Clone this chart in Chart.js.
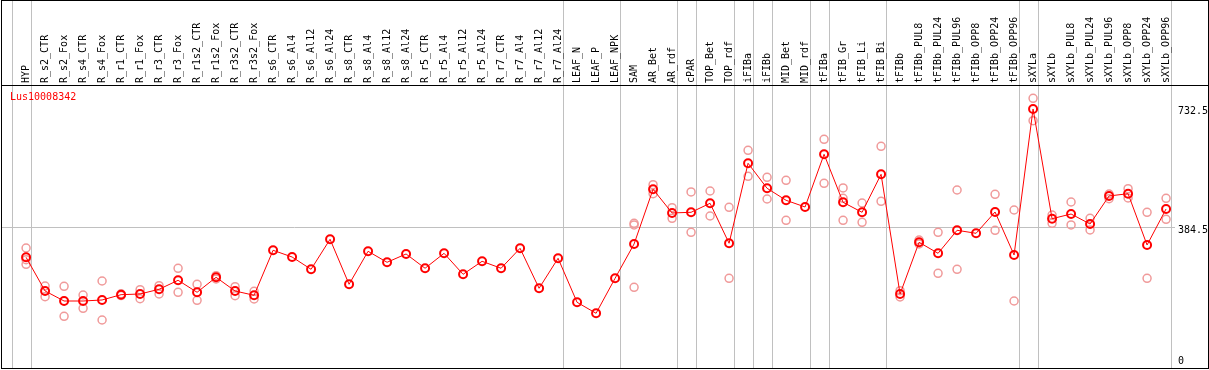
<!DOCTYPE html>
<html>
<head>
<meta charset="utf-8">
<script src="https://cdn.jsdelivr.net/npm/chart.js@4/dist/chart.umd.min.js"></script>
<style>
  body { margin: 0; background: #fff; }
  canvas { display: block; }
</style>
</head>
<body>
<canvas id="grafico" width="1209" height="370"></canvas>
<script>
var amostras = ['HYP', 'R_s2_CTR', 'R_s2_Fox', 'R_s4_CTR', 'R_s4_Fox', 'R_r1_CTR', 'R_r1_Fox', 'R_r3_CTR', 'R_r3_Fox',
  'R_r1s2_CTR', 'R_r1s2_Fox', 'R_r3s2_CTR', 'R_r3s2_Fox', 'R_s6_CTR', 'R_s6_Al4', 'R_s6_Al12', 'R_s6_Al24',
  'R_s8_CTR', 'R_s8_Al4', 'R_s8_Al12', 'R_s8_Al24', 'R_r5_CTR', 'R_r5_Al4', 'R_r5_Al12', 'R_r5_Al24',
  'R_r7_CTR', 'R_r7_Al4', 'R_r7_Al12', 'R_r7_Al24', 'LEAF_N', 'LEAF_P', 'LEAF_NPK', 'SAM', 'AR_Bet', 'AR_rdf',
  'cPAR', 'TOP_Bet', 'TOP_rdf', 'iFIBa', 'iFIBb', 'MID_Bet', 'MID_rdf', 'tFIBa', 'tFIB_Gr', 'tFIB_Li', 'tFIB_Bi',
  'tFIBb', 'tFIBb_PUL8', 'tFIBb_PUL24', 'tFIBb_PUL96', 'tFIBb_OPP8', 'tFIBb_OPP24', 'tFIBb_OPP96',
  'sXYLa', 'sXYLb', 'sXYLb_PUL8', 'sXYLb_PUL24', 'sXYLb_PUL96', 'sXYLb_OPP8', 'sXYLb_OPP24', 'sXYLb_OPP96'];

// media de cada amostra
var medias = [298.8, 200.3, 171.0, 171.0, 174.0, 189.5, 191.5, 205.3, 231.6,
  196.5, 240.3, 200.3, 187.7, 319.3, 299.7, 263.7, 351.5,
  219.9, 316.4, 284.2, 308.5, 266.7, 310.5, 249.1, 287.1,
  266.7, 325.1, 208.2, 295.9, 167.2, 135.1, 237.4, 337.7, 497.7, 428.4,
  430.4, 456.7, 339.8, 573.7, 500.6, 465.5, 445.9, 600.0, 459.6, 430.4, 541.5,
  191.5, 342.7, 310.5, 377.8, 369.0, 431.3, 305.6,
  732.5, 411.7, 425.4, 396.2, 478.1, 484.8, 334.8, 440.1];

// replicas
var rep1 = [326.0, 214.9, 214.0, 188.6, 229.5, 192.0, 204.1, 215.8, 266.7,
  219.9, 245.0, 212.9, 199.4, null, null, null, null,
  null, null, null, null, null, null, null, null,
  null, null, null, null, null, null, null, 398.2, 511.1, 443.9,
  489.8, 492.7, 445.0, 611.7, 532.7, 524.0, null, 643.9, 501.5, 457.6, 623.4,
  201.2, 349.4, 371.9, 495.6, null, 483.0, 437.1,
  763.7, 422.5, 460.5, 412.9, 483.9, 499.4, 430.4, 471.3];

var rep2 = [278.4, 183.6, 126.3, 149.7, 115.5, 187.0, 177.8, 191.5, 196.5,
  173.1, 235.4, 186.5, 176.9, null, null, null, null,
  null, null, null, null, null, null, null, null,
  null, null, null, null, null, null, null, 393.3, 484.8, 412.9,
  371.9, 419.6, 237.4, 535.7, 469.3, 407.0, null, 515.2, 471.3, 401.2, 462.6,
  182.7, 337.7, 252.0, 263.7, null, 377.8, 171.0,
  698.2, 398.2, 393.3, 378.7, 470.2, 472.2, 237.4, 409.9];

var rep3 = [292.0, null, null, null, null, null, null, null, null,
  null, null, null, null, null, null, null, null,
  null, null, null, null, null, null, null, null,
  null, null, null, null, null, null, null, 211.1, null, null,
  null, null, null, null, null, null, null, null, 407.0, null, null,
  null, null, null, null, null, null, null,
  null, null, null, null, null, null, null, null];

var marcasY = [0, 384.5, 732.5];
var fimGrupo = [-1, 0, 28, 31, 34, 35, 37, 38, 39, 41, 42, 45, 52, 53, 60];
var gene = 'Lus10008342';

var fonte = '10px "DejaVu Sans Mono", monospace';

var pontos = function(serie){
  var lista = [];
  for (i = 0; i < serie.length; i++) {
    if (serie[i] !== null) lista.push({x: i, y: serie[i]});
  }
  return lista;
};

var replica = function(serie){
  return {
    type: 'scatter',
    data: pontos(serie),
    showLine: false,
    borderColor: '#f09a9a',
    backgroundColor: 'rgba(0,0,0,0)',
    pointRadius: 4,
    pointBorderWidth: 1.5,
    order: 2
  };
};

var moldura = {
  id: 'moldura',
  beforeDatasetsDraw: function(chart){
    var c = chart.ctx, x = chart.scales.x;
    c.save();
    c.strokeStyle = '#c0c0c0';
    c.lineWidth = 1;
    fimGrupo.forEach(function(g){
      var px = Math.round(x.getPixelForValue(g + 0.24)) + 0.5;
      c.beginPath();
      c.moveTo(px, 0);
      c.lineTo(px, 369);
      c.stroke();
    });
    c.restore();
  },
  afterDraw: function(chart){
    var c = chart.ctx, x = chart.scales.x;
    c.save();
    c.strokeStyle = '#000';
    c.lineWidth = 1;
    c.strokeRect(1.5, 0.5, 1207, 368);
    c.beginPath();
    c.moveTo(1, 85.5);
    c.lineTo(1209, 85.5);
    c.stroke();

    c.font = fonte;
    c.fillStyle = '#000';
    c.textAlign = 'left';
    c.textBaseline = 'middle';
    for (i = 0; i < amostras.length; i++) {
      c.save();
      c.translate(x.getPixelForValue(i) + 0.5, 83);
      c.rotate(-Math.PI / 2);
      c.fillText(amostras[i], 0, 0);
      c.restore();
    }

    c.fillStyle = '#ff0000';
    c.textBaseline = 'alphabetic';
    c.fillText(gene, 10, 100);
    c.restore();
  }
};

new Chart(document.getElementById('grafico'), {
  data: {
    datasets: [{
      type: 'line',
      data: pontos(medias),
      borderColor: '#ff0000',
      borderWidth: 1,
      backgroundColor: 'rgba(0,0,0,0)',
      pointRadius: 4,
      pointBorderWidth: 2,
      pointBorderColor: '#ff0000',
      tension: 0,
      order: 0
    }, replica(rep1), replica(rep2), replica(rep3)]
  },
  options: {
    responsive: false,
    animation: false,
    devicePixelRatio: 1,
    layout: { autoPadding: false, padding: { top: 85, bottom: 1, left: 1, right: 0 } },
    plugins: { legend: { display: false }, tooltip: { enabled: false } },
    scales: {
      x: {
        type: 'linear',
        min: -1.32,
        max: 60.47,
        display: false
      },
      y: {
        position: 'right',
        min: -27.8,
        max: 802.6,
        afterBuildTicks: function(axis){
          axis.ticks = marcasY.map(function(v){ return {value: v}; });
        },
        afterFit: function(axis){
          axis.width = 34;
          axis.paddingTop = 0;
          axis.paddingBottom = 0;
        },
        border: { display: false },
        grid: {
          drawTicks: false,
          color: function(ctx){ return ctx.tick && ctx.tick.value === 384.5 ? '#c0c0c0' : 'rgba(0,0,0,0)'; }
        },
        ticks: {
          padding: 3,
          labelOffset: 2,
          color: '#000',
          font: { family: '"DejaVu Sans Mono", monospace', size: 10 },
          callback: function(v){ return String(v); }
        }
      }
    }
  },
  plugins: [moldura]
});
</script>
</body>
</html>
